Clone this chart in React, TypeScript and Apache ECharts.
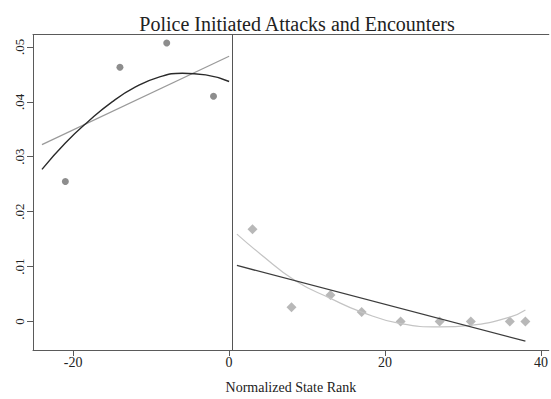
import React, { useEffect, useRef } from "react";
import * as echarts from "echarts";

// Binned scatter points
const leftX = [-21, -14, -8, -2];
const leftY = [0.0255, 0.0463, 0.0507, 0.041];
const rightX = [3, 8, 13, 17, 22, 27, 31, 36, 38];
const rightY = [0.0168, 0.0026, 0.0048, 0.0017, 0, 0, 0, 0, 0];

// Fitted lines
const leftLinX = [-24, 0];
const leftLinY = [0.0322, 0.0483];
const leftQuadX = [-24, -21, -18, -15, -12, -9, -6, -3, 0];
const leftQuadY = [0.0277, 0.0325, 0.0365, 0.04, 0.0427, 0.0445, 0.0452, 0.0449, 0.0437];
const rightLinX = [1, 38];
const rightLinY = [0.0102, -0.0036];
const rightQuadX = [1, 4, 8.5, 13, 17, 22, 27, 31, 36, 38];
const rightQuadY = [0.0159, 0.0123, 0.0074, 0.0042, 0.0017, -0.0004, -0.001, -0.0007, 0.0008, 0.0021];

const xTicks = [-20, 0, 20, 40];
const yTicks = [0, 0.01, 0.02, 0.03, 0.04, 0.05];
const cutoff = 0.45;

const title = "Police Initiated Attacks and Encounters";
const xName = "Normalized State Rank";

const zip = (xs: number[], ys: number[]) => xs.map((x, i) => [x, ys[i]]);

const FONT = "Liberation Serif";

export default function App() {
  const ref = useRef<HTMLDivElement>(null);
  useEffect(() => {
    if (!ref.current) return;
    const chart = echarts.init(ref.current, undefined, { renderer: "svg" });
    const axisColor = "#5a5a5a";
    chart.setOption({
      animation: false,
      backgroundColor: "#ffffff",
      title: {
        text: title,
        left: 292,
        textAlign: "center",
        top: 9,
        textStyle: { fontFamily: FONT, fontSize: 20, fontWeight: "normal", color: "#222" },
      },
      grid: { left: 33, right: 0, top: 34.5, bottom: 44, containLabel: false },
      xAxis: [
        {
          type: "value",
          min: -25.15,
          max: 41,
          position: "bottom",
          name: xName,
          nameLocation: "middle",
          nameGap: 30,
          nameTextStyle: { fontFamily: FONT, fontSize: 14, color: "#222" },
          axisLine: { show: true, onZero: false, lineStyle: { color: axisColor, width: 1 } },
          axisTick: { show: true, length: 6, customValues: xTicks, lineStyle: { color: axisColor } },
          axisLabel: {
            show: true,
            customValues: xTicks,
            margin: 5,
            fontFamily: FONT,
            fontSize: 14,
            color: "#222",
          },
          splitLine: { show: false },
        },
        {
          type: "value",
          min: -25.15,
          max: 41,
          position: "top",
          axisLine: { show: true, onZero: false, lineStyle: { color: axisColor, width: 1 } },
          axisTick: { show: false },
          axisLabel: { show: false },
          splitLine: { show: false },
        },
      ],
      yAxis: {
        type: "value",
        min: -0.0052,
        max: 0.05226,
        axisLine: { show: true, onZero: false, lineStyle: { color: axisColor, width: 1 } },
        axisTick: { show: true, length: 6, customValues: yTicks, lineStyle: { color: axisColor } },
        axisLabel: {
          show: true,
          customValues: yTicks,
          rotate: 90,
          margin: 7,
          fontFamily: FONT,
          fontSize: 13,
          color: "#222",
          formatter: (v: number) => (v === 0 ? "0" : v.toFixed(2).replace(/^0/, "")),
        },
        splitLine: { show: false },
      },
      series: [
        {
          type: "line",
          data: zip(leftLinX, leftLinY),
          showSymbol: false,
          symbol: "none",
          lineStyle: { color: "#9a9a9a", width: 1.2 },
          markLine: {
            silent: true,
            symbol: "none",
            label: { show: false },
            lineStyle: { color: "#555", type: "solid", width: 1 },
            data: [{ xAxis: cutoff }],
          },
        },
        {
          type: "line",
          data: zip(leftQuadX, leftQuadY),
          smooth: true,
          showSymbol: false,
          symbol: "none",
          lineStyle: { color: "#2a2a2a", width: 1.4 },
        },
        {
          type: "line",
          data: zip(rightQuadX, rightQuadY),
          smooth: true,
          showSymbol: false,
          symbol: "none",
          lineStyle: { color: "#c4c4c4", width: 1.2 },
        },
        {
          type: "line",
          data: zip(rightLinX, rightLinY),
          showSymbol: false,
          symbol: "none",
          lineStyle: { color: "#3c3c3c", width: 1.3 },
        },
        {
          type: "scatter",
          data: zip(leftX, leftY),
          symbol: "circle",
          symbolSize: 7,
          itemStyle: { color: "#707070" },
        },
        {
          type: "scatter",
          data: zip(rightX, rightY),
          symbol: "diamond",
          symbolSize: 10,
          itemStyle: { color: "#a6a6a6" },
        },
      ],
    });
    return () => chart.dispose();
  }, []);
  return (
    <div
      ref={ref}
      style={{ position: "fixed", left: 0, top: 0, width: 551, height: 399, background: "#fff" }}
    />
  );
}
